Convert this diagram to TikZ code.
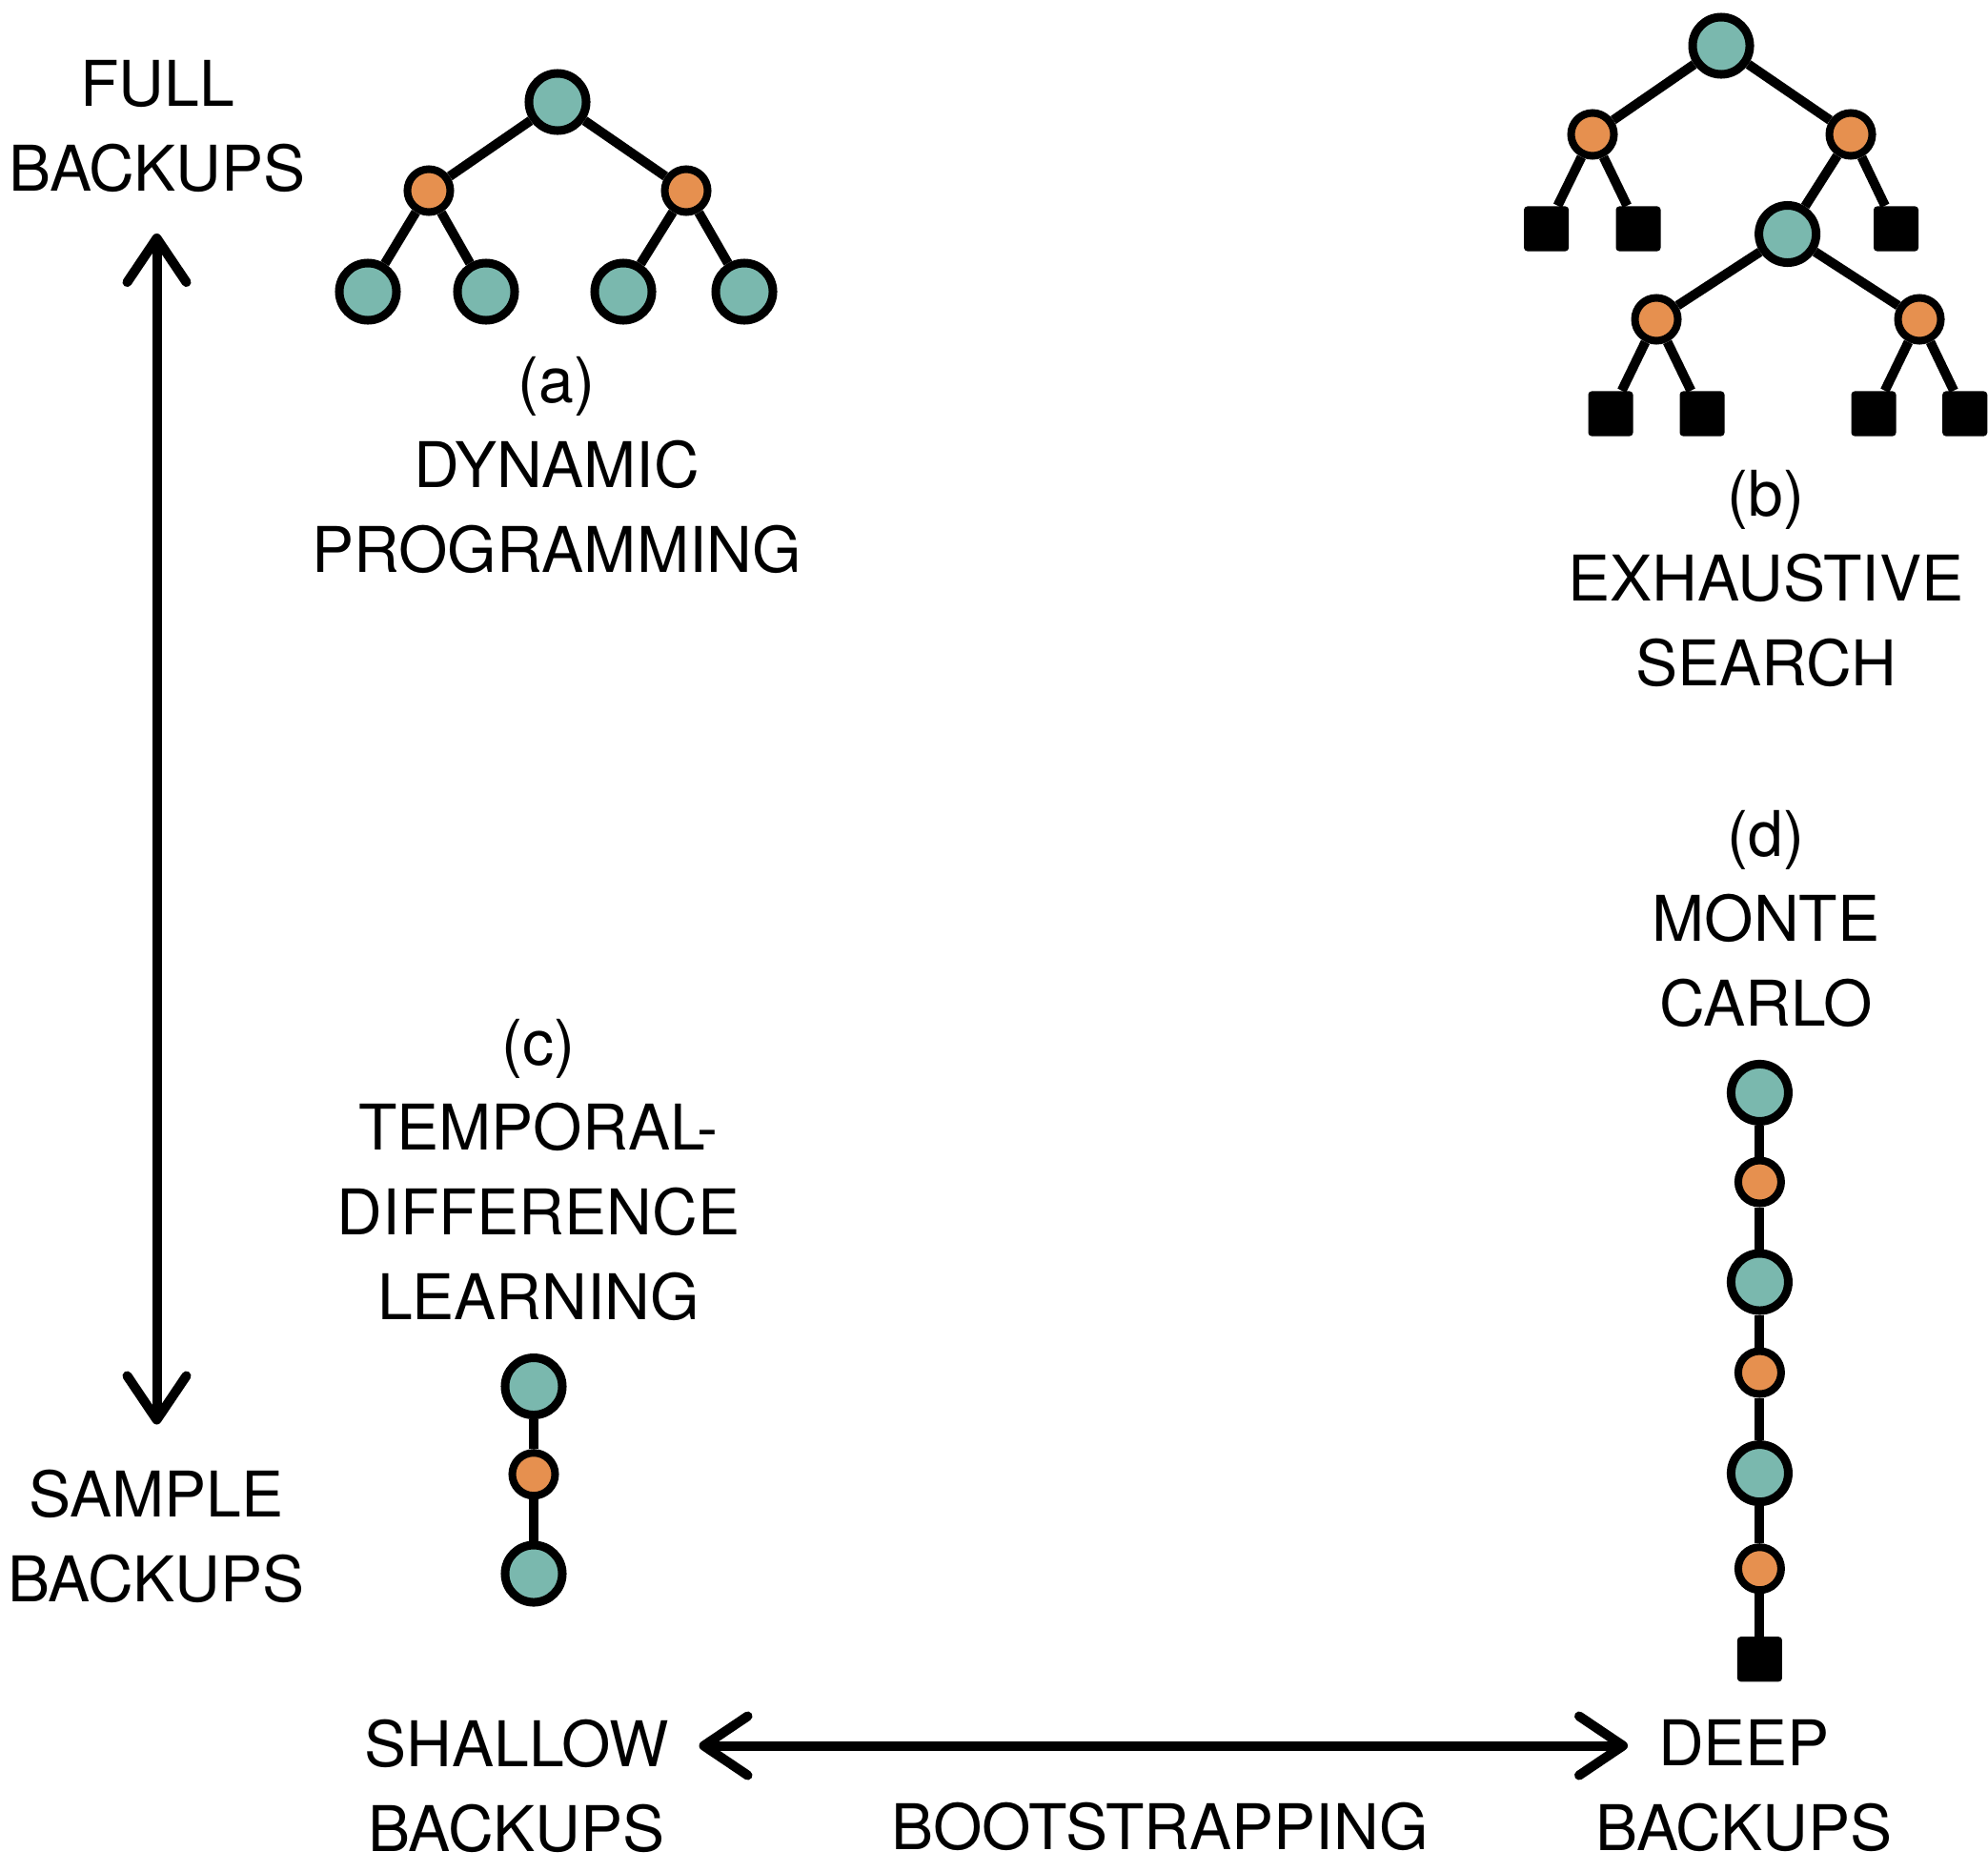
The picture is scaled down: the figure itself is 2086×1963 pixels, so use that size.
\documentclass[tikz,border=0pt]{standalone}
\usepackage{fontspec}
\setmainfont{TeX Gyre Heros}
\usetikzlibrary{arrows.meta}
\colorlet{state area}{rgb,255:red,122;green,184;blue,174}
\colorlet{action area}{rgb,255:red,230;green,144;blue,79}
\colorlet{node edge}{black}
\tikzset{state/.style={circle, fill=state area, draw=node edge, line width=0.09cm, minimum size=0.6cm, inner sep=0pt},
    action/.style={circle, fill=action area, draw=node edge, line width=0.08cm, minimum size=0.45cm, inner sep=0pt},
    terminal/.style={rectangle, fill=node edge, rounded corners=1pt, minimum size=0.47cm, inner sep=0pt},
    link/.style={draw=node edge, line width=0.1cm},
    axis/.style={draw=node edge, line width=0.1cm, {Straight Barb[length=0.46cm, width=0.62cm, round]}-{Straight Barb[length=0.46cm, width=0.62cm, round]}},
    caption/.style={align=center, anchor=base, inner sep=0pt, font=\fontsize{18.8}{25.3}\selectfont}}
\begin{document}
\begin{tikzpicture}[x=0.01cm, y=-0.01cm]
    \useasboundingbox (0,0) rectangle (2086,1963);
    % axes
    \coordinate (full end)    at (164.5,245);
    \coordinate (sample end)  at (164.5,1494.5);
    \coordinate (shallow end) at (733.5,1831.5);
    \coordinate (deep end)    at (1708,1831.5);
    \draw[axis] (full end) -- (sample end);
    \draw[axis] (shallow end) -- (deep end);
    \node[caption] (full)    at (165,200)     {FULL\\BACKUPS};
    \node[caption] (sample)  at (164,1680.6)  {SAMPLE\\BACKUPS};
    \node[caption] (shallow) at (542,1942.9)  {SHALLOW\\BACKUPS};
    \node[caption] (deep)    at (1830,1941)   {DEEP\\BACKUPS};
    \node[caption] (boot)    at (1217,1940)   {BOOTSTRAPPING};

    % (a) dynamic programming
    \node[state]  (a0) at (585,107) {};
    \node[action] (a1) at (450,200) {};
    \node[action] (a2) at (720,200) {};
    \node[state]  (a3) at (386,306) {};
    \node[state]  (a4) at (510,306) {};
    \node[state]  (a5) at (654,306) {};
    \node[state]  (a6) at (781,306) {};
    \draw[link] (a0) -- (a1) (a0) -- (a2) (a1) -- (a3) (a1) -- (a4) (a2) -- (a5) (a2) -- (a6);
    \node[caption] (dp) at (584,600) {(a)\\DYNAMIC\\PROGRAMMING};

    % (b) exhaustive search
    \node[state]    (b0) at (1806,48) {};
    \node[action]   (b1) at (1671,141) {};
    \node[action]   (b2) at (1942,141) {};
    \node[terminal] (b3) at (1622.6,240) {};
    \node[terminal] (b4) at (1719,240) {};
    \node[state]    (b5) at (1875.6,245.5) {};
    \node[terminal] (b6) at (1989.5,240) {};
    \node[action]   (b7) at (1738,335) {};
    \node[action]   (b8) at (2014,335) {};
    \node[terminal] (b9)  at (1690,434) {};
    \node[terminal] (b10) at (1786,434) {};
    \node[terminal] (b11) at (1966,434) {};
    \node[terminal] (b12) at (2061.7,434) {};
    \draw[link] (b0) -- (b1) (b0) -- (b2) (b1) -- (b3) (b1) -- (b4) (b2) -- (b5) (b2) -- (b6)
        (b5) -- (b7) (b5) -- (b8) (b7) -- (b9) (b7) -- (b10) (b8) -- (b11) (b8) -- (b12);
    \node[caption] (es) at (1853,719) {(b)\\EXHAUSTIVE\\SEARCH};

    % (c) temporal-difference learning
    \node[caption] (td) at (565,1384) {(c)\\TEMPORAL-\\DIFFERENCE\\LEARNING};
    \node[state]  (c0) at (560,1454.5) {};
    \node[action] (c1) at (560,1546.7) {};
    \node[state]  (c2) at (560,1651) {};
    \draw[link] (c0) -- (c1) -- (c2);

    % (d) monte carlo
    \node[caption] (mc) at (1853,1076) {(d)\\MONTE\\CARLO};
    \node[state]    (d0) at (1846.4,1146.4) {};
    \node[action]   (d1) at (1846.4,1240) {};
    \node[state]    (d2) at (1846.4,1345) {};
    \node[action]   (d3) at (1846.4,1440) {};
    \node[state]    (d4) at (1846.4,1545.6) {};
    \node[action]   (d5) at (1846.4,1645.7) {};
    \node[terminal] (d6) at (1846.4,1740.7) {};
    \draw[link] (d0) -- (d1) -- (d2) -- (d3) -- (d4) -- (d5) -- (d6);
\end{tikzpicture}
\end{document}
